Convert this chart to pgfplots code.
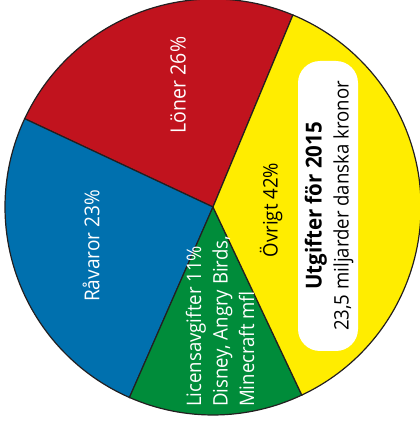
\documentclass[border=0pt]{standalone}
\usepackage{pgfplots}
\pgfplotsset{compat=1.18}
\usepackage{fontspec}
\setmainfont[FakeStretch=0.93]{Open Sans}

\definecolor{cRed}{HTML}{C1131E}
\definecolor{cBlue}{HTML}{0070AE}
\definecolor{cGreen}{HTML}{008C3A}
\definecolor{cYellow}{HTML}{FFED00}
\definecolor{cLine}{HTML}{231F20}

% drawn shares (percent of the full circle), starting at 67.4 degrees
\pgfmathsetmacro{\aA}{67.4}
\pgfmathsetmacro{\aB}{\aA+3.6*24.3}% Löner
\pgfmathsetmacro{\aC}{\aB+3.6*25.4}% Råvaror
\pgfmathsetmacro{\aD}{\aC+3.6*13.6}% Licensavgifter
\pgfmathsetmacro{\aE}{\aD+3.6*36.7}% Övrigt

\begin{document}
\begin{tikzpicture}
\begin{axis}[name=ax, x=1pt, y=1pt, xmin=0, xmax=420, ymin=0, ymax=424,
  hide axis, clip=true]
\fill[cRed, draw=cLine, line width=1.2pt] (axis cs:213,217) -- (axis cs:{213+208*cos(\aA)},{217+208*sin(\aA)}) arc[start angle=\aA, end angle=\aB, radius=208pt] -- cycle;
\fill[cBlue, draw=cLine, line width=1.2pt] (axis cs:213,217) -- (axis cs:{213+208*cos(\aB)},{217+208*sin(\aB)}) arc[start angle=\aB, end angle=\aC, radius=208pt] -- cycle;
\fill[cGreen, draw=cLine, line width=1.2pt] (axis cs:213,217) -- (axis cs:{213+208*cos(\aC)},{217+208*sin(\aC)}) arc[start angle=\aC, end angle=\aD, radius=208pt] -- cycle;
\fill[cYellow, draw=cLine, line width=1.2pt] (axis cs:213,217) -- (axis cs:{213+208*cos(\aD)},{217+208*sin(\aD)}) arc[start angle=\aD, end angle=\aE, radius=208pt] -- cycle;

\node[rotate=90, inner sep=0, text=white, font=\fontsize{21}{26}\selectfont] at (axis cs:178,339) {Löner 26\%};
\node[rotate=90, inner sep=0, text=white, font=\fontsize{20.5}{26}\selectfont] at (axis cs:91,178) {Råvaror 23\%};
\node[rotate=90, inner sep=0, text=black, font=\fontsize{20}{26}\selectfont] at (axis cs:271,214) {Övrigt 42\%};
\node[rotate=90, anchor=west, align=left, inner sep=0, text=white, font=\fontsize{20}{26.5}\selectfont] at (axis cs:220,17) {Licensavgifter 11\%\\Disney, Angry Birds,\\Minecraft mfl};

\fill[white, rounded corners=22pt] (axis cs:298,73) rectangle (axis cs:358,363);
\node[rotate=90, align=center, inner sep=0, text=black, font=\fontsize{20}{27}\selectfont] at (axis cs:329,218) {{\fontsize{22}{27}\selectfont\bfseries Utgifter för 2015}\\23,5 miljarder danska kronor};
\end{axis}
\pgfresetboundingbox
\path[use as bounding box] (ax.south west) rectangle (ax.north east);
\end{tikzpicture}
\end{document}
